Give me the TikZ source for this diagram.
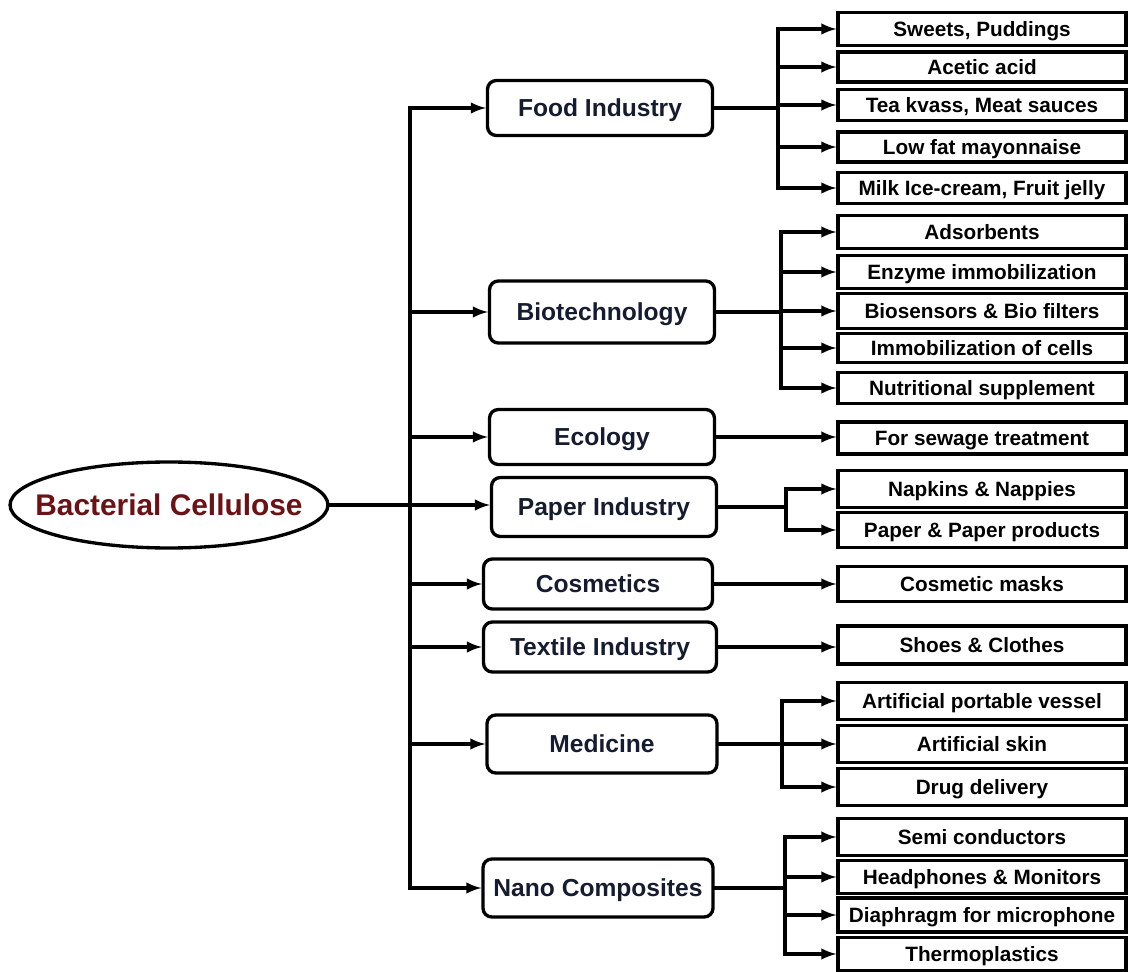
\documentclass[tikz,border=0pt]{standalone}
\usepackage{fontspec}
\setmainfont{Liberation Sans}
\usetikzlibrary{arrows,shapes.geometric}
\definecolor{M}{RGB}{108, 18, 22}
\definecolor{N}{RGB}{22, 28, 48}

\begin{document}
\begin{tikzpicture}[x=0.02cm, y=-0.02cm, line width=1.9pt, line cap=rect,
    cat/.style={draw, rounded corners=5pt, minimum width=4.5cm, minimum height=1.1cm,
      text depth=0pt, text=N, font=\fontsize{14}{16}\selectfont\bfseries},
    leaf/.style={draw, minimum width=5.76cm, minimum height=0.66cm, inner sep=1pt,
      text depth=0pt, font=\fontsize{11.8}{14}\selectfont\bfseries},
    arr/.style={-latex}]
  \useasboundingbox (0,0) rectangle (1131,972);

  % root
  \node[draw, ellipse, minimum width=6.36cm, minimum height=1.72cm, inner sep=0pt,
    text=M, font=\fontsize{17}{20}\selectfont\bfseries] (bc) at (169,505)
    {\makebox[4.4cm]{Bacterial Cellulose}};

  % applications
  \node[cat] (food) at (600,108) {Food Industry};
  \node[cat, minimum height=1.24cm] (bio) at (602,312) {Biotechnology};
  \node[cat] (eco) at (602,437) {Ecology};
  \node[cat, minimum height=1.18cm] (paper) at (604,507) {Paper Industry};
  \node[cat, minimum width=4.58cm, minimum height=1cm] (cosm) at (598,584) {Cosmetics};
  \node[cat, minimum width=4.66cm, minimum height=1cm] (text) at (600,647) {Textile Industry};
  \node[cat, minimum width=4.6cm, minimum height=1.16cm] (med) at (602,744) {Medicine};
  \node[cat, minimum width=4.6cm, minimum height=1.16cm] (nano) at (598,888) {Nano Composites};

  % products
  \node[leaf] (sweets) at (982,29) {Sweets, Puddings};
  \node[leaf, minimum height=0.6cm] (acetic) at (982,67) {Acetic acid};
  \node[leaf, minimum height=0.62cm] (kvass) at (982,105) {Tea kvass, Meat sauces};
  \node[leaf, minimum height=0.6cm] (mayo) at (982,147) {Low fat mayonnaise};
  \node[leaf, minimum height=0.62cm] (milk) at (982,188) {Milk Ice-cream, Fruit jelly};
  \node[leaf] (adsorb) at (982,232) {Adsorbents};
  \node[leaf] (enzyme) at (982,272) {Enzyme immobilization};
  \node[leaf, minimum height=0.7cm] (biosens) at (982,311) {Biosensors \& Bio filters};
  \node[leaf, minimum height=0.58cm] (cells) at (982,348) {Immobilization of cells};
  \node[leaf, minimum height=0.62cm] (nutri) at (982,388) {Nutritional supplement};
  \node[leaf, minimum height=0.64cm] (sewage) at (982,438) {For sewage treatment};
  \node[leaf, minimum height=0.74cm] (napkins) at (982,489) {Napkins \& Nappies};
  \node[leaf, minimum height=0.7cm] (paperprod) at (982,530) {Paper \& Paper products};
  \node[leaf, minimum height=0.7cm] (masks) at (982,584) {Cosmetic masks};
  \node[leaf, minimum height=0.76cm] (shoes) at (982,645) {Shoes \& Clothes};
  \node[leaf, minimum height=0.74cm] (vessel) at (982,701) {Artificial portable vessel};
  \node[leaf, minimum height=0.74cm] (skin) at (982,744) {Artificial skin};
  \node[leaf, minimum height=0.74cm] (drug) at (982,787) {Drug delivery};
  \node[leaf, minimum height=0.74cm] (semi) at (982,837) {Semi conductors};
  \node[leaf] (phones) at (982,877) {Headphones \& Monitors};
  \node[leaf, minimum height=0.68cm] (diaph) at (982,915) {Diaphragm for microphone};
  \node[leaf] (thermo) at (982,954) {Thermoplastics};

  % main trunk
  \coordinate (trunk) at (410,0);
  \draw (food.west -| trunk) -- (nano.west -| trunk);
  \draw[arr] (food.west -| trunk) -- (food.west);
  \draw[arr] (bio.west -| trunk) -- (bio.west);
  \draw[arr] (eco.west -| trunk) -- (eco.west);
  \draw[arr] (bc.east) -- (bc.east -| paper.west);
  \draw[arr] (cosm.west -| trunk) -- (cosm.west);
  \draw[arr] (text.west -| trunk) -- (text.west);
  \draw[arr] (med.west -| trunk) -- (med.west);
  \draw[arr] (nano.west -| trunk) -- (nano.west);

  % food
  \coordinate (fj) at (778,0);
  \draw (food.east) -- (food.east -| fj);
  \draw (sweets.west -| fj) -- (milk.west -| fj);
  \draw[arr] (sweets.west -| fj) -- (sweets.west);
  \draw[arr] (acetic.west -| fj) -- (acetic.west);
  \draw[arr] (kvass.west -| fj) -- (kvass.west);
  \draw[arr] (mayo.west -| fj) -- (mayo.west);
  \draw[arr] (milk.west -| fj) -- (milk.west);

  % biotechnology
  \coordinate (bj) at (781,0);
  \draw (bio.east) -- (bio.east -| bj);
  \draw (adsorb.west -| bj) -- (nutri.west -| bj);
  \draw[arr] (adsorb.west -| bj) -- (adsorb.west);
  \draw[arr] (enzyme.west -| bj) -- (enzyme.west);
  \draw[arr] (biosens.west -| bj) -- (biosens.west);
  \draw[arr] (cells.west -| bj) -- (cells.west);
  \draw[arr] (nutri.west -| bj) -- (nutri.west);

  % ecology, cosmetics, textile
  \draw[arr] (eco.east) -- (eco.east -| sewage.west);
  \draw[arr] (cosm.east) -- (cosm.east -| masks.west);
  \draw[arr] (text.east) -- (text.east -| shoes.west);

  % paper
  \coordinate (pj) at (786,0);
  \draw (paper.east) -- (paper.east -| pj);
  \draw (napkins.west -| pj) -- (paperprod.west -| pj);
  \draw[arr] (napkins.west -| pj) -- (napkins.west);
  \draw[arr] (paperprod.west -| pj) -- (paperprod.west);

  % medicine
  \coordinate (mj) at (782,0);
  \draw (med.east) -- (med.east -| mj);
  \draw (vessel.west -| mj) -- (drug.west -| mj);
  \draw[arr] (vessel.west -| mj) -- (vessel.west);
  \draw[arr] (skin.west -| mj) -- (skin.west);
  \draw[arr] (drug.west -| mj) -- (drug.west);

  % nano composites
  \coordinate (nj) at (785,0);
  \draw (nano.east) -- (nano.east -| nj);
  \draw (semi.west -| nj) -- (thermo.west -| nj);
  \draw[arr] (semi.west -| nj) -- (semi.west);
  \draw[arr] (phones.west -| nj) -- (phones.west);
  \draw[arr] (diaph.west -| nj) -- (diaph.west);
  \draw[arr] (thermo.west -| nj) -- (thermo.west);
\end{tikzpicture}
\end{document}
